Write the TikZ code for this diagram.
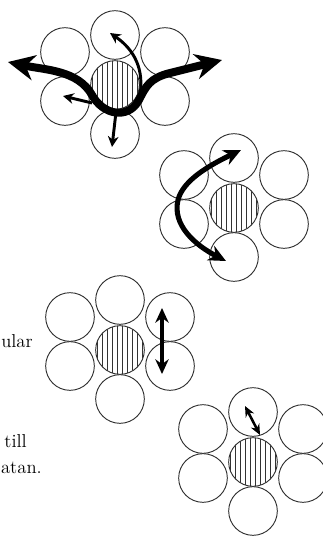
\documentclass[tikz,border=0pt]{standalone}
\usepackage{tikz}
\usetikzlibrary{arrows.meta}
\tikzstyle{wire} = [draw=black!80, line width=0.7pt, circle, minimum size=36.5pt, inner sep=0pt]
\tikzstyle{core} = [wire, path picture={
    \foreach \i in {-4.5,-3.5,...,4.5}
      \draw[line width=0.65pt] ([xshift=\i*3.75pt]path picture bounding box.north)
        -- ([xshift=\i*3.75pt]path picture bounding box.south);}]
\tikzstyle{bigflow} = [line width=6pt,
    arrows={Stealth[length=20pt,width=19pt]-Stealth[length=20pt,width=19pt]}]
\tikzstyle{smallflow} = [line width=2.2pt, arrows={-Stealth[length=8pt,width=8pt]}]
\tikzstyle{bendflow} = [line width=3.8pt,
    arrows={Stealth[length=13pt,width=12pt]-Stealth[length=13pt,width=12pt]}]
\tikzstyle{shake} = [line width=2.6pt,
    arrows={Stealth[length=11pt,width=10pt]-Stealth[length=11pt,width=10pt]}]
\tikzstyle{nudge} = [line width=1.9pt,
    arrows={Stealth[length=8pt,width=7pt]-Stealth[length=8pt,width=7pt]}]
\tikzstyle{cut} = [font=\fontsize{14}{16}\selectfont, inner sep=0pt, anchor=base east]

% one strand: hatched core with six wires round it
\newcommand{\wirering}[3]{%
  \node[core] (#1) at (#2,#3) {};
  \foreach \s/\dx/\dy in {t/0/-50, b/0/49, ul/-50/-33, ll/-50/16, ur/50/-33, lr/50/16}
    \node[wire] (#1\s) at (#2+\dx,#3+\dy) {};
}

\begin{document}
\begin{tikzpicture}[x=0.75pt, y=-0.75pt]
    \useasboundingbox (0,0) rectangle (322,536);
    \wirering{A}{115}{85}
    \wirering{B}{234}{208}
    \wirering{C}{120}{350}
    \wirering{D}{253}{462}

    % text at the left edge
    \node[cut, anchor=base west] (t1) at (1,347) {ular};
    \node[cut] (t2) at (27,447) {till};
    \node[cut] (t3) at (42,473) {atan.};

    % ring A
    \coordinate (aw) at (8,62);
    \coordinate (ae) at (222,60);
    \coordinate (an) at (110,33);
    \coordinate (al) at (63,96);
    \coordinate (as) at (112,147);
    \draw[bigflow] (aw) .. controls (45,70) and (78,70) .. (92,95)
      .. controls (103,115) and (128,120) .. (139,100)
      .. controls (146,86) and (150,78) .. (170,73) -- (ae);
    \draw[smallflow] (140,95) .. controls (144,70) and (135,50) .. (an);
    \draw[smallflow] (92,103) -- (al);
    \draw[smallflow] (116,112) -- (as);

    % ring B
    \coordinate (bs) at (226,261);
    \coordinate (bn) at (241,150);
    \draw[bendflow] (bs) .. controls (195,245) and (172,225) .. (178,200)
      .. controls (183,180) and (210,165) .. (bn);

    % ring C
    \coordinate (cn) at (162,308);
    \coordinate (cs) at (162,374);
    \draw[shake] (cn) -- (cs);

    % ring D
    \coordinate (dn) at (245,406);
    \coordinate (ds) at (260,435);
    \draw[nudge] (dn) -- (ds);
\end{tikzpicture}
\end{document}
